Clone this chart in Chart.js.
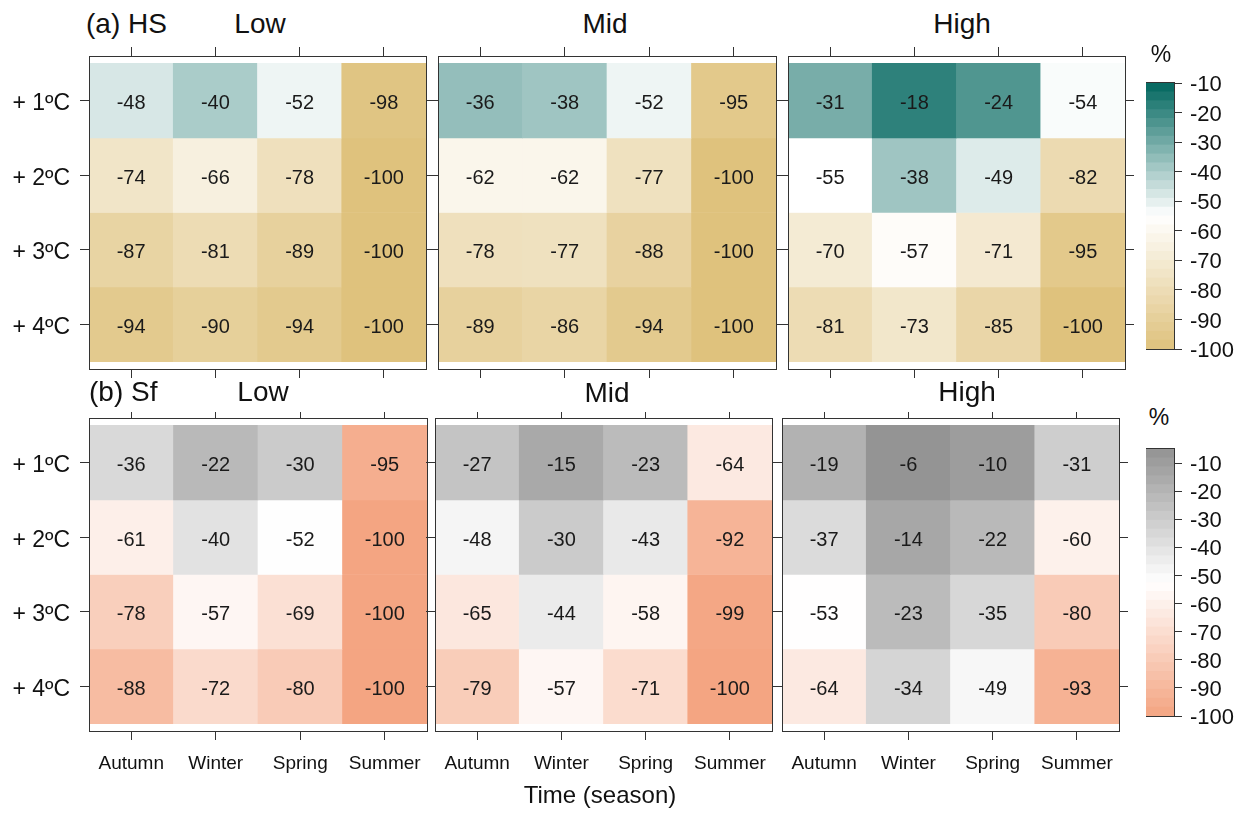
<!DOCTYPE html>
<html>
<head>
<meta charset="utf-8">
<title>Change in HS and Sf by season and warming level</title>
<script src="https://cdn.jsdelivr.net/npm/chart.js@4.4.1/dist/chart.umd.min.js"></script>
<style>
  html, body { margin: 0; padding: 0; background: #ffffff; }
  #fig { position: relative; width: 1247px; height: 813px; overflow: hidden;
         font-family: "Liberation Sans", Arial, Helvetica, sans-serif; color: #111; }
  #fig canvas { position: absolute; }
  .lbl { position: absolute; white-space: nowrap; }
</style>
</head>
<body>
<div id="fig"></div>
<script>
// ---- data -------------------------------------------------------------
const seasons = ['Autumn', 'Winter', 'Spring', 'Summer'];
const warming = ['+ 1ºC', '+ 2ºC', '+ 3ºC', '+ 4ºC'];
const warmingLevels = [1, 2, 3, 4];

// relative change (%) – rows: +1..+4 ºC, columns: seasons
const hsLow  = [[-48, -40, -52, -98], [-74, -66, -78, -100], [-87, -81, -89, -100], [-94, -90, -94, -100]];
const hsMid  = [[-36, -38, -52, -95], [-62, -62, -77, -100], [-78, -77, -88, -100], [-89, -86, -94, -100]];
const hsHigh = [[-31, -18, -24, -54], [-55, -38, -49, -82],  [-70, -57, -71, -95],  [-81, -73, -85, -100]];
const sfLow  = [[-36, -22, -30, -95], [-61, -40, -52, -100], [-78, -57, -69, -100], [-88, -72, -80, -100]];
const sfMid  = [[-27, -15, -23, -64], [-48, -30, -43, -92],  [-65, -44, -58, -99],  [-79, -57, -71, -100]];
const sfHigh = [[-19, -6, -10, -31],  [-37, -14, -22, -60],  [-53, -23, -35, -80],  [-64, -34, -49, -93]];

// colour-key ticks and ranges
const hsKeyTicks = [-10, -20, -30, -40, -50, -60, -70, -80, -90, -100];
const sfKeyTicks = [-10, -20, -30, -40, -50, -60, -70, -80, -90, -100];
const hsKeyRange = [-100, -10];
const sfKeyRange = [-100, -5];

// ---- helpers ----------------------------------------------------------
const FONT = '"Liberation Sans", Arial, Helvetica, sans-serif';
const AXIS = '#333333';
const fig = document.getElementById('fig');

function hexToRgb(h) {
  const n = parseInt(h.slice(1), 16);
  return [(n >> 16) & 255, (n >> 8) & 255, n & 255];
}
function mix(a, b, t) {
  const A = hexToRgb(a), B = hexToRgb(b);
  const c = A.map((v, i) => Math.round(v + (B[i] - v) * t));
  return 'rgb(' + c.join(',') + ')';
}
function diverging(loVal, midVal, hiVal, loCol, midCol, hiCol) {
  return v => {
    if (v <= midVal) {
      const t = Math.min(1, (midVal - v) / (midVal - loVal));
      return mix(midCol, loCol, t);
    }
    const t = Math.min(1, (v - midVal) / (hiVal - midVal));
    return mix(midCol, hiCol, t);
  };
}
const hsColour = diverging(-100, -55, -10, '#dfc27d', '#ffffff', '#01665e');
const sfColour = diverging(-100, -52.5, -5, '#f4a582', '#ffffff', '#929292');

function addCanvas(left, top, w, h) {
  const c = document.createElement('canvas');
  c.width = w; c.height = h;
  c.style.left = left + 'px'; c.style.top = top + 'px';
  c.style.width = w + 'px'; c.style.height = h + 'px';
  fig.appendChild(c);
  return c;
}

function addText(text, x, baseline, size, align) {
  const d = document.createElement('div');
  d.className = 'lbl';
  d.textContent = text;
  d.style.fontSize = size + 'px';
  d.style.lineHeight = size + 'px';
  d.style.top = (baseline - 0.8465 * size) + 'px';
  d.style.left = x + 'px';
  if (align === 'center') d.style.transform = 'translateX(-50%)';
  fig.appendChild(d);
}

// fixed axis thickness, no extra room reserved for end labels
function fixHeight(px) {
  return s => { s.height = px; s.paddingLeft = 0; s.paddingRight = 0; };
}
function fixWidth(px) {
  return s => { s.width = px; s.paddingTop = 0; s.paddingBottom = 0; };
}

// value written in the middle of every cell
const cellText = {
  id: 'cellText',
  afterDatasetsDraw(chart) {
    const ctx = chart.ctx;
    ctx.save();
    ctx.font = '20px ' + FONT;
    ctx.fillStyle = '#1a1a1a';
    ctx.textAlign = 'center';
    ctx.textBaseline = 'middle';
    chart.data.datasets.forEach((ds, di) => {
      chart.getDatasetMeta(di).data.forEach((el, i) => {
        const p = el.getProps(['x', 'y', 'base'], true);
        ctx.fillText(String(ds.values[i]), p.x, (p.y + p.base) / 2 + 3);
      });
    });
    ctx.restore();
  }
};

// outline for the colour key
const keyFrame = {
  id: 'keyFrame',
  afterDraw(chart) {
    const a = chart.chartArea, ctx = chart.ctx;
    ctx.save();
    ctx.strokeStyle = AXIS;
    ctx.lineWidth = 1;
    ctx.strokeRect(Math.round(a.left) - 0.5, Math.round(a.top) - 0.5,
                   Math.round(a.right - a.left) + 1, Math.round(a.bottom - a.top) + 1);
    ctx.restore();
  }
};

const baseOptions = {
  responsive: false,
  animation: false,
  devicePixelRatio: 1,
  events: [],
  plugins: { legend: { display: false }, tooltip: { enabled: false }, title: { display: false } }
};

function heatPanel(box, rows, colour, showX, showY, topTick) {
  const padL = showY ? box[0] : 9, padR = 9, padT = 9, padB = showX ? 60 : 9;
  const w = box[2] - box[0], h = box[3] - box[1];
  const cv = addCanvas(box[0] - padL, box[1] - padT, w + padL + padR, h + padT + padB);
  const tickGrid = len => ({ drawOnChartArea: false, tickLength: len, color: AXIS, tickWidth: 1, offset: false });
  const border = { color: AXIS, width: 1, z: 1 };
  const rowTicks = s => { s.ticks = warmingLevels.map(v => ({ value: v })); };

  new Chart(cv, {
    type: 'bar',
    data: {
      labels: seasons,
      datasets: warmingLevels.map((lvl, r) => ({
        data: seasons.map(() => [lvl - 0.5, lvl + 0.5]),
        values: rows[r],
        backgroundColor: rows[r].map(colour),
        grouped: false,
        barPercentage: 1,
        categoryPercentage: 1,
        borderWidth: 0,
        borderSkipped: false
      }))
    },
    options: Object.assign({}, baseOptions, {
      layout: { padding: 0 },
      scales: {
        x: {
          type: 'category', position: 'bottom', offset: true,
          grid: tickGrid(9), border: border,
          ticks: { display: showX, font: { family: FONT, size: 19 }, color: '#111',
                   padding: 12, maxRotation: 0, minRotation: 0, autoSkip: false },
          afterFit: fixHeight(padB)
        },
        xTop: {
          type: 'category', position: 'top', offset: true,
          grid: tickGrid(topTick), border: border,
          ticks: { display: false },
          afterFit: fixHeight(padT)
        },
        y: {
          type: 'linear', position: 'left', reverse: true, min: 0.4, max: 4.6,
          afterBuildTicks: rowTicks,
          grid: tickGrid(9), border: border,
          ticks: { display: showY, font: { family: FONT, size: 23 }, color: '#111',
                   padding: 10, labelOffset: 3, autoSkip: false,
                   callback: v => warming[warmingLevels.indexOf(v)] },
          afterFit: fixWidth(padL)
        },
        yRight: {
          type: 'linear', position: 'right', reverse: true, min: 0.4, max: 4.6,
          afterBuildTicks: rowTicks,
          grid: tickGrid(9), border: border,
          ticks: { display: false },
          afterFit: fixWidth(padR)
        }
      }
    }),
    plugins: [cellText]
  });
}

function colourKey(box, range, tickVals, colour) {
  const lo = range[0], hi = range[1];
  const N = 30;
  const edges = [];
  for (let k = 0; k <= N; k++) edges.push(lo + (hi - lo) * k / N);
  const padTop = 16, padBottom = 16, axisW = 72;
  const w = box[2] - box[0], h = box[3] - box[1];
  const cv = addCanvas(box[0], box[1] - padTop, w + axisW, h + padTop + padBottom);
  new Chart(cv, {
    type: 'bar',
    data: {
      labels: [''],
      datasets: edges.slice(0, -1).map((e, k) => ({
        data: [[e, edges[k + 1]]],
        backgroundColor: colour((e + edges[k + 1]) / 2),
        grouped: false, barPercentage: 1, categoryPercentage: 1,
        borderWidth: 0, inflateAmount: 0.4
      }))
    },
    options: Object.assign({}, baseOptions, {
      layout: { padding: { top: padTop, bottom: padBottom, left: 0, right: 0 } },
      scales: {
        x: { type: 'category', display: false, offset: true },
        y: {
          type: 'linear', position: 'right', min: lo, max: hi,
          afterBuildTicks: s => { s.ticks = tickVals.map(v => ({ value: v })); },
          grid: { drawOnChartArea: false, tickLength: 8, color: AXIS },
          border: { display: false },
          ticks: { font: { family: FONT, size: 22 }, color: '#111', padding: 8, labelOffset: 2,
                   autoSkip: false },
          afterFit: fixWidth(axisW)
        }
      }
    }),
    plugins: [keyFrame]
  });
}

// ---- figure -----------------------------------------------------------
// (a) HS
heatPanel([89, 56, 426, 369],  hsLow,  hsColour, false, true, 9);
heatPanel([438, 56, 776, 369], hsMid,  hsColour, false, false, 9);
heatPanel([788, 56, 1125, 369], hsHigh, hsColour, false, false, 9);
// (b) Sf
heatPanel([89, 418, 427, 731],  sfLow,  sfColour, true, true, 6);
heatPanel([435, 418, 772, 731], sfMid,  sfColour, true, false, 6);
heatPanel([782, 418, 1119, 731], sfHigh, sfColour, true, false, 6);

colourKey([1146, 83, 1174, 349], hsKeyRange, hsKeyTicks, hsColour);
colourKey([1146, 449, 1174, 716], sfKeyRange, sfKeyTicks, sfColour);

addText('(a) HS', 86, 34, 28, 'left');
addText('Low', 260, 34, 28, 'center');
addText('Mid', 605, 34, 28, 'center');
addText('High', 962, 34, 28, 'center');
addText('(b) Sf', 89, 402, 28, 'left');
addText('Low', 263, 402, 28, 'center');
addText('Mid', 607, 403, 28, 'center');
addText('High', 967, 402, 28, 'center');
addText('%', 1161, 62, 23, 'center');
addText('%', 1159, 425, 23, 'center');
addText('Time (season)', 600, 803, 24, 'center');
</script>
</body>
</html>
